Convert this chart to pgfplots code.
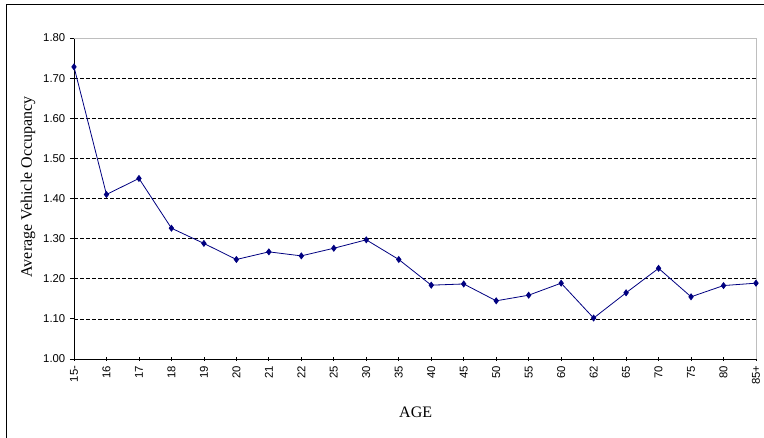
\documentclass[border=0pt]{standalone}
\usepackage{pgfplots}
\pgfplotsset{compat=1.18}
\usepackage{fontspec}
\setmainfont{Liberation Serif}
\newfontfamily\arial{Liberation Sans}
\definecolor{navyline}{RGB}{0,0,128}
\definecolor{boxgray}{RGB}{190,190,190}

\begin{document}
\begin{tikzpicture}
% page: 764x438 px at 0.75pt per px, axis box lower-left at (0,0)
\useasboundingbox (-55.5pt,-59.25pt) rectangle (517.5pt,269.25pt);
\draw[line width=1.1pt] (-50.5pt,-60pt) -- (-50.5pt,266pt) -- (518pt,266pt);
\begin{axis}[
    scale only axis,
    width=511.5pt, height=240.75pt,
    xmin=0, xmax=21, ymin=1, ymax=1.8,
    clip=false,
    axis x line*=bottom, axis y line*=left,
    axis line style={black, line width=0.6pt},
    xtick=data,
    xticklabels={15-,16,17,18,19,20,21,22,25,30,35,40,45,50,55,60,62,65,70,75,80,85+},
    ytick={1,1.1,1.2,1.3,1.4,1.5,1.6,1.7,1.8},
    minor ytick={1.1,1.2,1.3,1.4,1.5,1.6,1.7},
    yminorgrids,
    minor grid style={black, line width=0.5pt, dash pattern=on 3pt off 1.5pt},
    minor tick length=0pt,
    major tick length=3pt,
    xtick align=center, ytick align=outside,
    tick style={black, line width=0.6pt},
    /pgf/number format/assume math mode=true,
    yticklabel style={font=\arial\fontsize{8.5}{10}\selectfont,
        /pgf/number format/.cd, fixed, fixed zerofill, precision=2},
    xticklabel style={font=\arial\fontsize{8.5}{10}\selectfont, rotate=90, anchor=east},
    ylabel={Average Vehicle Occupancy},
    xlabel={AGE},
    label style={font=\fontsize{12}{14}\selectfont},
    ylabel style={at={(axis description cs:-0.0674,0.536)}, anchor=center, rotate=0},
    xlabel style={at={(axis description cs:0.501,-0.165)}, anchor=center},
]
\draw[boxgray, line width=0.6pt] (rel axis cs:0,1) -- (rel axis cs:1,1) -- (rel axis cs:1,0);
\addplot[navyline, line width=0.6pt, mark=diamond*, mark size=2.2pt,
    mark options={fill=navyline, draw=navyline}] coordinates {
    (0,1.728) (1,1.410) (2,1.450) (3,1.326) (4,1.288) (5,1.248)
    (6,1.267) (7,1.257) (8,1.276) (9,1.297) (10,1.248) (11,1.184)
    (12,1.187) (13,1.145) (14,1.159) (15,1.189) (16,1.102) (17,1.165)
    (18,1.226) (19,1.155) (20,1.183) (21,1.189)
};
\end{axis}
\end{tikzpicture}
\end{document}
